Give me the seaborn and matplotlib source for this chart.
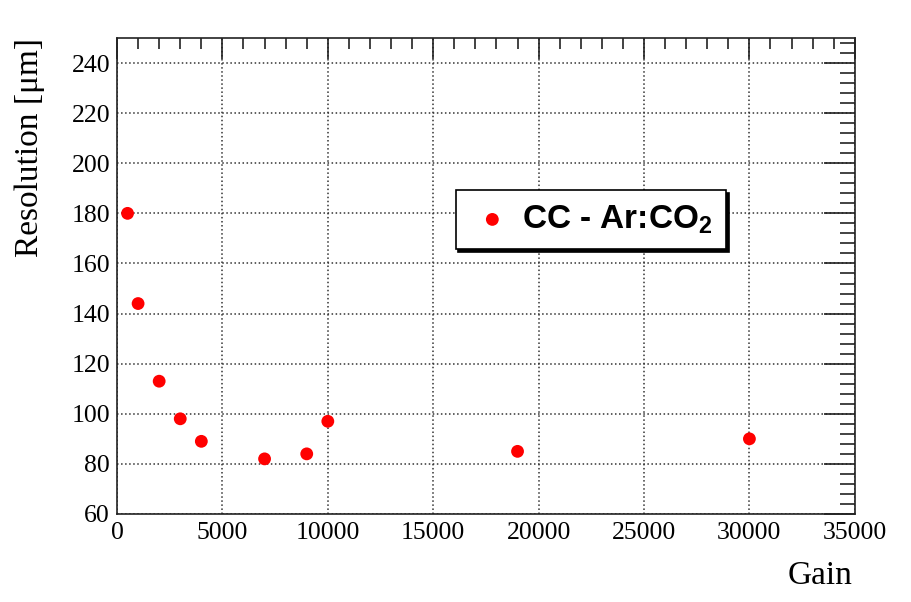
import numpy as np
import pandas as pd
import matplotlib
matplotlib.use("Agg")
import matplotlib.pyplot as plt
import seaborn as sns
from matplotlib.ticker import MultipleLocator

# values
gain = [500, 1000, 2000, 3000, 4000, 7000, 9000, 10000, 19000, 30000]
resolution = [180, 144, 113, 98, 89, 82, 84, 97, 85, 90]
series_label = "CC - Ar:CO$_2$"

df = pd.DataFrame({"Gain": gain, "Resolution": resolution})

sns.set_style("white")
plt.rcParams["font.family"] = ["Liberation Serif", "DejaVu Serif"]
plt.rcParams["mathtext.fontset"] = "custom"
plt.rcParams["mathtext.rm"] = "Liberation Sans:bold"
plt.rcParams["mathtext.it"] = "Liberation Sans:bold"
plt.rcParams["text.color"] = "black"
plt.rcParams["axes.labelcolor"] = "black"

fig = plt.figure(figsize=(9.12, 6.02), dpi=100)
ax = fig.add_axes([0.1283, 0.1462, 0.809, 0.7907])

sns.scatterplot(data=df, x="Gain", y="Resolution", ax=ax, color="#ff0000",
                s=85, edgecolor="none", label=series_label, zorder=3)

ax.set_xlim(0, 35000)
ax.set_ylim(60, 250)
ax.xaxis.set_major_locator(MultipleLocator(5000))
ax.xaxis.set_minor_locator(MultipleLocator(1000))
ax.yaxis.set_major_locator(MultipleLocator(20))
ax.yaxis.set_minor_locator(MultipleLocator(4))

ax.tick_params(which="both", direction="in", top=True, right=True,
               colors="#222222", labelcolor="black", labelsize=18.5, width=1.2)
ax.tick_params(axis="y", which="major", length=22, pad=5)
ax.tick_params(axis="y", which="minor", length=11)
ax.tick_params(axis="x", which="major", length=15, pad=6)
ax.tick_params(axis="x", which="minor", length=8)

for sp in ax.spines.values():
    sp.set_linewidth(1.2)
    sp.set_color("#222222")

ax.grid(True, which="major", linestyle=":", color="#333333", linewidth=1.1)
ax.set_axisbelow(True)

ax.set_xlabel("Gain", fontsize=24)
ax.xaxis.set_label_coords(0.997, -0.097)
ax.xaxis.label.set_horizontalalignment("right")
ax.xaxis.label.set_verticalalignment("top")
ax.set_ylabel("Resolution [\u03bcm]", fontsize=24)
ax.yaxis.set_label_coords(-0.097, 1.0)
ax.yaxis.label.set_horizontalalignment("right")

leg = ax.legend(loc="upper left", bbox_to_anchor=(0.459, 0.681), frameon=True,
                fancybox=False, shadow={"color": "black", "alpha": 1.0},
                prop={"family": "Liberation Sans", "weight": "bold", "size": 24},
                handletextpad=0.2, borderpad=0.4, handlelength=1.4,
                borderaxespad=0, markerscale=1.0)
leg.get_frame().set_edgecolor("black")
leg.get_frame().set_linewidth(1.2)

fig.savefig("out.png", dpi=100)
